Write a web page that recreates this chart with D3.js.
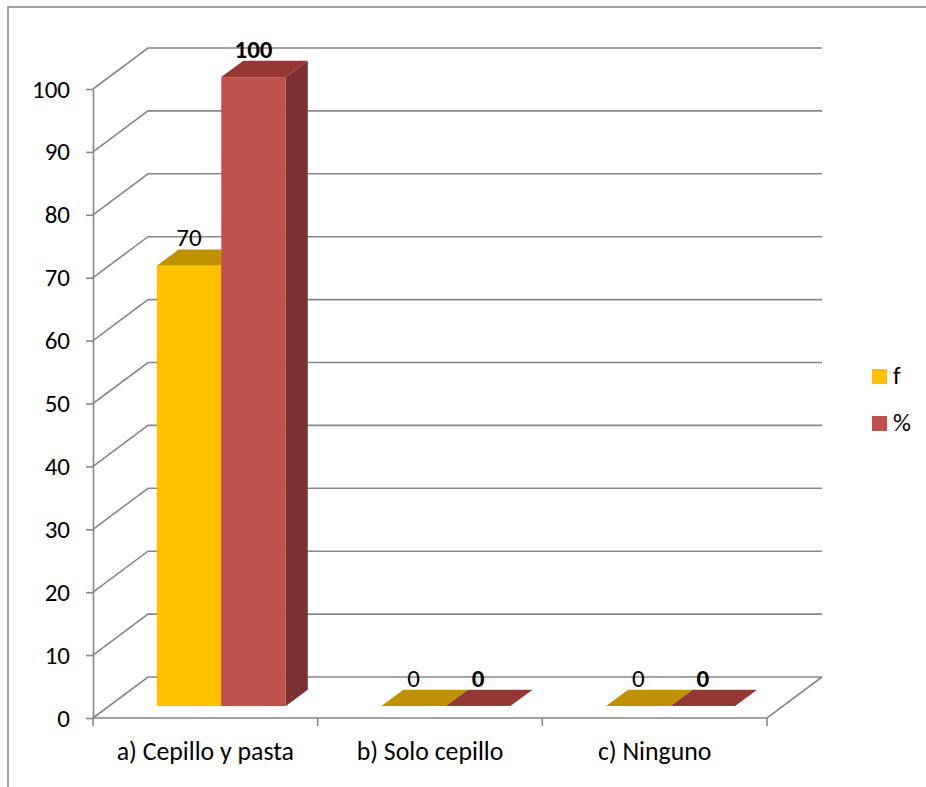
<!DOCTYPE html>
<html>
<head>
<meta charset="utf-8">
<script src="https://cdn.jsdelivr.net/npm/d3@7"></script>
<style>
  html, body { margin: 0; padding: 0; background: #fff; }
  svg { display: block; }
  text { font-family: Carlito, Calibri, Lato, sans-serif; fill: #000; }
</style>
</head>
<body>
<svg id="chart" width="926" height="787"></svg>
<script>
// Data
const categories = ["a) Cepillo y pasta", "b) Solo cepillo", "c) Ninguno"];
const seriesNames = ["f", "%"];
const valuesF = [70, 0, 0];
const valuesPct = [100, 0, 0];
const yTicks = [0, 10, 20, 30, 40, 50, 60, 70, 80, 90, 100];

// Colours per series: front, top, side
const palette = {
  "f": { front: "#FFC000", top: "#BF9000", side: "#A07800" },
  "%": { front: "#C0504D", top: "#943735", side: "#7B3130" }
};
const labelBold = { "f": false, "%": true };

const svg = d3.select("#chart");
const gridColor = "#878787";
const fontSize = 25;
const catFontSize = 25.8;

// Outer chart frame
svg.append("rect")
  .attr("x", 8).attr("y", 7).attr("width", 940).attr("height", 800)
  .attr("fill", "none").attr("stroke", gridColor).attr("stroke-width", 1.5);

// Front plane scales
const y = d3.scaleLinear().domain([0, 100]).range([718, 89]);
const x = d3.scaleBand().domain(categories).range([93, 767]).paddingInner(0).paddingOuter(0);
const xs = d3.scaleBand().domain(seriesNames).range([0, x.bandwidth()]).paddingOuter(0.742).paddingInner(0);

// Oblique depth projection
const depthX = 55, depthY = -41;
function proj(px, py, z) { return [px + z * depthX, py + z * depthY]; }
const zBar0 = 0.29, zBar1 = 0.69;

const g = svg.append("g");

// Left wall and back wall gridlines
yTicks.forEach(t => {
  const f = proj(x.range()[0], y(t), 0);
  const b = proj(x.range()[0], y(t), 1);
  const br = proj(x.range()[1], y(t), 1);
  g.append("path")
    .attr("d", `M${f[0]},${f[1]}L${b[0]},${b[1]}L${br[0]},${br[1]}`)
    .attr("fill", "none").attr("stroke", gridColor).attr("stroke-width", 1.6);
});

// Floor outline (front and right edges)
{
  const fl = proj(x.range()[0], y(0), 0);
  const fr = proj(x.range()[1], y(0), 0);
  const br = proj(x.range()[1], y(0), 1);
  g.append("path")
    .attr("d", `M${fl[0]},${fl[1]}L${fr[0]},${fr[1]}L${br[0]},${br[1]}`)
    .attr("fill", "none").attr("stroke", gridColor).attr("stroke-width", 1.6);
}

// Y axis
const yAxis = d3.axisLeft(y).tickValues(yTicks).tickSize(7).tickSizeOuter(0).tickPadding(16);
const yg = svg.append("g").attr("transform", `translate(${x.range()[0]},0)`).call(yAxis);
yg.select(".domain").attr("stroke", gridColor).attr("stroke-width", 1.6);
yg.selectAll(".tick line").attr("stroke", gridColor).attr("stroke-width", 1.6);
yg.selectAll(".tick text").attr("font-size", fontSize).attr("font-family", "Carlito, Calibri, Lato, sans-serif").attr("fill", "#000");

// X axis (category ticks at band boundaries)
const boundaries = categories.map(c => x(c)).concat([x.range()[1]]);
boundaries.forEach(bx => {
  g.append("line")
    .attr("x1", bx).attr("x2", bx).attr("y1", y(0)).attr("y2", y(0) + 8)
    .attr("stroke", gridColor).attr("stroke-width", 1.6);
});
svg.selectAll(".cat-label").data(categories).enter().append("text")
  .attr("class", "cat-label")
  .attr("x", d => x(d) + x.bandwidth() / 2)
  .attr("y", 760)
  .attr("text-anchor", "middle")
  .attr("font-size", catFontSize)
  .text(d => d);

// Bars
const rows = [];
categories.forEach((c, i) => {
  rows.push({ cat: c, s: "f", v: valuesF[i] });
  rows.push({ cat: c, s: "%", v: valuesPct[i] });
});

const barG = svg.append("g");
rows.forEach(d => {
  const x0 = x(d.cat) + xs(d.s);
  const x1 = x0 + xs.bandwidth();
  const yb = y(0), yt = y(d.v);
  const col = palette[d.s];
  const pt = (px, py, z) => proj(px, py, z).join(",");
  // side face
  if (d.v > 0) {
    barG.append("polygon")
      .attr("points", [pt(x1, yb, zBar0), pt(x1, yb, zBar1), pt(x1, yt, zBar1), pt(x1, yt, zBar0)].join(" "))
      .attr("fill", col.side);
  }
  // top face
  barG.append("polygon")
    .attr("points", [pt(x0, yt, zBar0), pt(x1, yt, zBar0), pt(x1, yt, zBar1), pt(x0, yt, zBar1)].join(" "))
    .attr("fill", col.top);
  // front face
  if (d.v > 0) {
    const p = proj(x0, yt, zBar0);
    barG.append("rect")
      .attr("x", p[0]).attr("y", p[1])
      .attr("width", x1 - x0).attr("height", yb - yt)
      .attr("fill", col.front);
  }
});

// Value labels, centred over each bar's front face
rows.forEach(d => {
  const x0 = x(d.cat) + xs(d.s);
  const cx = x0 + xs.bandwidth() / 2 + zBar0 * depthX;
  const top = proj(x0, y(d.v), zBar1);
  svg.append("text")
    .attr("x", cx)
    .attr("y", top[1] - 3)
    .attr("text-anchor", "middle")
    .attr("font-size", fontSize)
    .attr("font-weight", labelBold[d.s] ? "bold" : "normal")
    .text(d.v);
});

// Legend
const legend = svg.append("g");
seriesNames.forEach((s, i) => {
  const ly = 369 + i * 47;
  legend.append("rect")
    .attr("x", 872).attr("y", ly).attr("width", 15).attr("height", 15)
    .attr("fill", palette[s].front);
  legend.append("text")
    .attr("x", 893).attr("y", ly + 15)
    .attr("font-size", fontSize)
    .text(s);
});
</script>
</body>
</html>
